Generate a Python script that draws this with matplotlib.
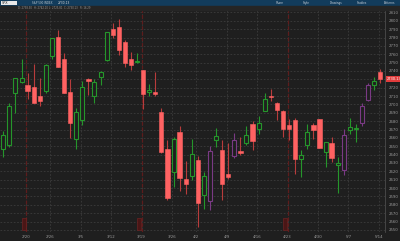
import matplotlib
matplotlib.use("Agg")
import matplotlib.pyplot as plt
from matplotlib.patches import Rectangle
from matplotlib.transforms import blended_transform_factory

# -----------------------------
# DATA (daily candles)
# -----------------------------
DATES = ["2/13", "2/14", "2/15", "2/16", "2/20", "2/21", "2/22", "2/23",
         "2/26", "2/27", "2/28", "3/1", "3/2", "3/5", "3/6", "3/7", "3/8", "3/9",
         "3/12", "3/13", "3/14", "3/15", "3/16", "3/19", "3/20", "3/21", "3/22", "3/23",
         "3/26", "3/27", "3/28", "3/29", "4/2", "4/3", "4/4", "4/5", "4/6",
         "4/9", "4/10", "4/11", "4/12", "4/13", "4/16", "4/17", "4/18", "4/19", "4/20",
         "4/23", "4/24", "4/25", "4/26", "4/27", "4/30", "5/1", "5/2", "5/3", "5/4",
         "5/7", "5/8", "5/9", "5/10", "5/11", "5/14"]
OPEN = [2646.3, 2651.2, 2713.5, 2727.1, 2723.0, 2720.5, 2710.4, 2715.8,
        2757.4, 2780.5, 2753.8, 2715.2, 2658.9, 2681.1, 2730.2, 2710.2, 2732.8, 2752.9,
        2790.5, 2792.3, 2774.1, 2754.3, 2750.6, 2741.4, 2715.1, 2715.0, 2691.4, 2646.7,
        2619.4, 2667.6, 2611.3, 2614.4, 2633.5, 2592.2, 2584.0, 2657.4, 2645.8,
        2617.2, 2638.4, 2643.9, 2653.8, 2676.9, 2670.1, 2692.7, 2710.1, 2701.2, 2692.6,
        2675.4, 2680.8, 2634.9, 2651.7, 2675.5, 2682.5, 2643.0, 2654.2, 2628.1, 2621.5,
        2669.4, 2670.3, 2678.1, 2705.0, 2722.7, 2738.3]
HIGH = [2668.8, 2702.1, 2731.5, 2754.4, 2737.6, 2747.8, 2731.3, 2747.8,
        2780.0, 2789.2, 2761.5, 2730.9, 2696.3, 2728.1, 2732.1, 2730.6, 2740.5, 2786.6,
        2797.0, 2801.9, 2777.1, 2763.0, 2761.9, 2741.4, 2724.2, 2739.1, 2695.7, 2657.7,
        2661.4, 2674.8, 2632.7, 2659.1, 2638.3, 2619.1, 2649.9, 2672.1, 2656.9,
        2653.6, 2665.5, 2661.4, 2674.7, 2680.3, 2686.5, 2713.3, 2718.0, 2702.8, 2693.9,
        2682.9, 2683.6, 2645.3, 2676.5, 2677.4, 2682.9, 2655.3, 2660.9, 2637.1, 2670.9,
        2683.4, 2676.3, 2701.3, 2726.1, 2732.9, 2742.1]
LOW = [2637.1, 2648.9, 2689.8, 2725.1, 2706.8, 2701.3, 2697.8, 2713.7,
       2753.8, 2744.2, 2713.5, 2659.7, 2647.3, 2675.8, 2711.3, 2701.7, 2722.7, 2751.5,
       2779.3, 2758.7, 2744.4, 2741.5, 2750.0, 2694.6, 2710.1, 2709.8, 2641.6, 2585.9,
       2601.8, 2596.1, 2593.1, 2609.7, 2553.8, 2575.5, 2573.6, 2649.6, 2586.3,
       2610.8, 2635.8, 2639.2, 2652.0, 2645.1, 2665.2, 2692.7, 2703.6, 2681.9, 2660.6,
       2658.0, 2617.3, 2612.7, 2647.2, 2659.0, 2648.0, 2625.4, 2631.7, 2594.6, 2615.3,
       2664.7, 2655.2, 2674.1, 2704.5, 2717.4, 2725.8]
CLOSE = [2662.9, 2698.6, 2731.2, 2732.2, 2716.3, 2701.3, 2704.0, 2747.3,
         2779.6, 2744.3, 2713.8, 2677.7, 2691.3, 2720.9, 2728.1, 2726.8, 2739.0, 2786.6,
         2783.0, 2765.3, 2749.5, 2747.3, 2752.0, 2712.9, 2716.9, 2711.9, 2643.7, 2588.3,
         2658.6, 2612.6, 2605.0, 2640.9, 2581.9, 2614.5, 2644.7, 2662.8, 2604.5,
         2613.2, 2656.9, 2642.2, 2664.0, 2656.3, 2677.8, 2706.4, 2708.6, 2693.1, 2670.1,
         2670.3, 2634.6, 2639.4, 2666.9, 2669.9, 2648.1, 2654.8, 2635.7, 2629.7, 2663.4,
         2672.6, 2671.9, 2697.8, 2723.1, 2727.7, 2730.1]
PURPLE_DAYS = ["4/4", "4/10", "5/4", "5/9", "5/10"]

WEEK_STARTS = ["2/20", "2/26", "3/5", "3/12", "3/19", "3/26", "4/2", "4/9",
               "4/16", "4/23", "4/30", "5/7", "5/14"]
EXPIRY_WEEKS = ["2/20", "3/19", "4/23"]
PRICE_TICKS = list(range(2550, 2811, 10))
LAST_PRICE = 2730.13
HEADER_FIELDS = ["D: 2738.30", "H: 2742.10", "L: 2725.81", "C: 2730.13", "R: 16.29"]
TOOLBAR_ITEMS = ["Share", "Style", "Drawings", "Studies", "Patterns"]

# -----------------------------
# STYLE
# -----------------------------
BG = "#1f1f1f"
GRID = "#3c3c3c"
GREEN = "#25962b"
PURPLE = "#7a3a84"
RED = "#ff6262"
RED_WICK = "#b83c3c"
EXPIRY = "#5e1c1c"
TEXT = "#9a9a9a"
W, H = 400, 241

fig = plt.figure(figsize=(W / 100, H / 100), dpi=100, facecolor=BG)
ax = fig.add_axes([0, 9 / H, 385 / W, 222 / H])
ax.set_facecolor(BG)

x = list(range(len(DATES)))
for i in x:
    o, h, l, c = OPEN[i], HIGH[i], LOW[i], CLOSE[i]
    up = c >= o
    if up:
        col = PURPLE if DATES[i] in PURPLE_DAYS else GREEN
        wick = col
    else:
        col = RED
        wick = RED_WICK
    ax.vlines(i, l, h, colors=wick, lw=0.8, zorder=3)
    bottom = min(o, c)
    height = max(abs(c - o), 0.8)
    if up:
        rect = Rectangle((i - 0.33, bottom), 0.66, height, facecolor=BG,
                         edgecolor=col, lw=0.8, zorder=4)
    else:
        rect = Rectangle((i - 0.35, bottom), 0.7, height, facecolor=col,
                         edgecolor=col, lw=0.4, zorder=4)
    ax.add_patch(rect)

ax.set_xlim(-0.54, 62.78)
ax.set_ylim(2547.5, 2812.9)

week_pos = [DATES.index(d) - 0.25 for d in WEEK_STARTS]
ax.set_xticks(week_pos)
ax.set_xticklabels(WEEK_STARTS)
ax.set_yticks(PRICE_TICKS)
# the last-price box sits over the 2730 label
ax.set_yticklabels(["" if p == round(LAST_PRICE, -1) else str(p) for p in PRICE_TICKS])
ax.yaxis.tick_right()
ax.tick_params(axis="both", length=0, colors=TEXT, labelsize=2.8)
ax.tick_params(axis="x", pad=2.5)
ax.tick_params(axis="y", pad=2.5)
ax.grid(True, color=GRID, lw=0.6, linestyle=(0, (2, 2)))
ax.set_axisbelow(True)

for d in EXPIRY_WEEKS:
    xp = DATES.index(d) - 0.25
    ax.axvline(xp, color=EXPIRY, lw=0.9, linestyle=(0, (3, 1.5)), zorder=2)
    ax.add_patch(Rectangle((xp - 0.7, 2550), 0.62, 14, facecolor="#4a1616",
                           edgecolor="#7a2424", lw=0.4, zorder=2))

for side in ["top", "left", "bottom"]:
    ax.spines[side].set_visible(False)
ax.spines["right"].set_color("#555555")
ax.spines["right"].set_linewidth(0.5)

trans = blended_transform_factory(ax.transAxes, ax.transData)
ax.text(1.004, LAST_PRICE, f"{LAST_PRICE:.2f}", transform=trans, ha="left",
        va="center", fontsize=2.6, color="white", clip_on=False,
        bbox=dict(boxstyle="square,pad=0.25", fc="#e23c3c", ec="none"))

# -----------------------------
# HEADER
# -----------------------------
fig.add_artist(Rectangle((0, 1 - 6 / H), 1, 6 / H, transform=fig.transFigure,
                         color="#123c5c", zorder=1))
fig.add_artist(Rectangle((0, 1 - 10 / H), 1, 4 / H, transform=fig.transFigure,
                         color="#252525", zorder=1))
fig.add_artist(Rectangle((1 / W, 1 - 5 / H), 16 / W, 4 / H, transform=fig.transFigure,
                         facecolor="#e8e8e8", edgecolor="none", zorder=2))
fig.text(2 / W, 1 - 3 / H, "SPX", fontsize=2.4, color="#222222", va="center", zorder=3)
fig.text(32 / W, 1 - 3 / H, "S&P 500 INDEX", fontsize=2.0, color="#b8c4cc", va="center", zorder=3)
fig.text(58 / W, 1 - 3 / H, f"{LAST_PRICE:.2f}", fontsize=2.2, color="#d8d8d8", va="center", zorder=3)

for k, item in enumerate(TOOLBAR_ITEMS):
    fig.text((276 + k * 27) / W, 1 - 3 / H, item, fontsize=2.0, color="#c8d0d8",
             va="center", zorder=3)

for k, field in enumerate(HEADER_FIELDS):
    fig.text((18 + k * 15.5) / W, 1 - 8 / H, field, fontsize=1.8, color=TEXT,
             va="center", zorder=3)

fig.savefig("out.png", dpi=100, facecolor=fig.get_facecolor())
